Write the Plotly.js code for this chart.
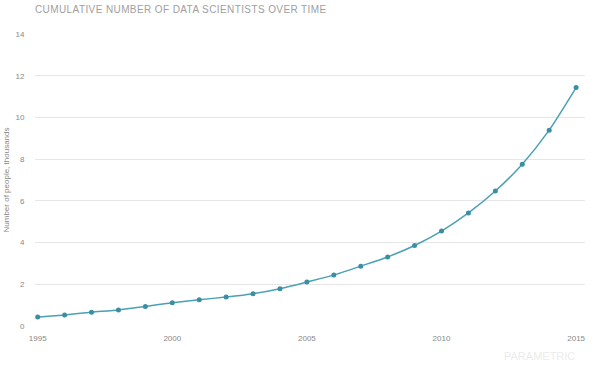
<!DOCTYPE html>
<html>
<head>
<meta charset="utf-8">
<script src="https://cdn.plot.ly/plotly-3.0.1.min.js"></script>
<style>html,body{margin:0;padding:0;background:#fff;}#chart{width:613px;height:365px;}</style>
</head>
<body>
<div id="chart"></div>
<script>
const years = [1995,1996,1997,1998,1999,2000,2001,2002,2003,2004,2005,2006,2007,2008,2009,2010,2011,2012,2013,2014,2015];
const scientists = [0.43,0.53,0.66,0.77,0.94,1.11,1.26,1.39,1.55,1.79,2.11,2.44,2.87,3.31,3.86,4.55,5.42,6.47,7.76,9.39,11.43];
const xTicks = [1995,2000,2005,2010,2015];
const yTicks = [0,2,4,6,8,10,12,14];

Plotly.newPlot('chart', [{
  x: years, y: scientists, type: 'scatter', mode: 'lines+markers',
  line: {color: '#4aa0b5', width: 1.5, shape: 'spline', smoothing: 0.6},
  marker: {color: '#3c8ea3', size: 5},
  hoverinfo: 'x+y'
}], {
  width: 613, height: 365,
  margin: {l: 35, r: 28, t: 34, b: 39},
  paper_bgcolor: '#fff', plot_bgcolor: '#fff',
  font: {family: 'Liberation Sans, Arial, sans-serif', color: '#888', size: 8},
  showlegend: false,
  title: {text: 'CUMULATIVE NUMBER OF DATA SCIENTISTS OVER TIME', x: 0, xref: 'paper', xanchor: 'left', y: 1, yref: 'container', yanchor: 'top', pad: {t: 6, l: 0},
    font: {size: 10, color: '#a0a0a0', family: 'Liberation Sans, Arial, sans-serif'}},
  xaxis: {range: [1994.9, 2015.33], tickvals: xTicks, ticktext: xTicks.map(String), showgrid: false, zeroline: false, showline: false, ticks: 'outside', ticklen: 4, tickcolor: 'rgba(0,0,0,0)', tickfont: {size: 8, color: '#888'}, fixedrange: true},
  yaxis: {range: [0, 14], tickvals: yTicks, showgrid: true, gridcolor: '#e6e6e6', gridwidth: 1, zeroline: false, showline: false, ticks: 'outside', ticklen: 8, tickcolor: 'rgba(0,0,0,0)', tickfont: {size: 8, color: '#888'},
    title: {text: 'Number of people, thousands', font: {size: 8, color: '#888'}, standoff: 4}, fixedrange: true},
  annotations: [{text: 'PARAMETRIC', xref: 'paper', yref: 'paper', x: 0.985, y: -0.075, xanchor: 'right', yanchor: 'top', showarrow: false, font: {size: 11, color: '#ececec', family: 'Liberation Sans, Arial, sans-serif'}}]
}, {displayModeBar: false, staticPlot: true}).then(function(gd){
  const t = gd.querySelector('.gtitle');
  if (t) t.style.letterSpacing = '0.4px';
});
</script>
</body>
</html>
